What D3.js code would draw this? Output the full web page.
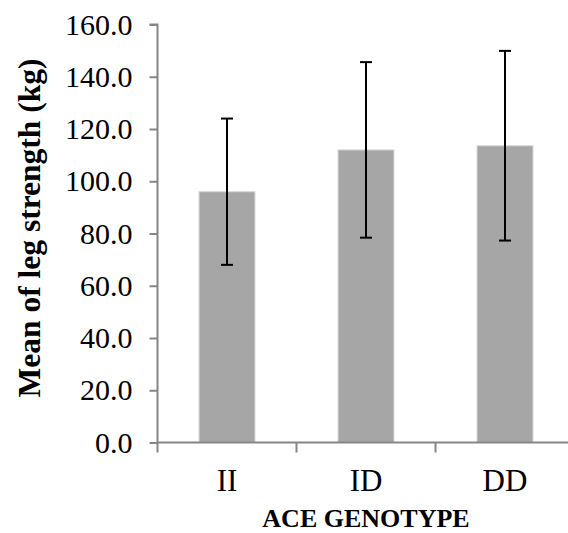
<!DOCTYPE html>
<html><head><meta charset="utf-8">
<script src="https://cdn.jsdelivr.net/npm/d3@7"></script>
<style>html,body{margin:0;padding:0;background:#fff;}svg{display:block;}</style>
</head><body>
<script>
const categories = ["II", "ID", "DD"];
const means = [96.0, 112.0, 113.6];
const errors = [28.0, 33.6, 36.3];
const yTicks = [0, 20, 40, 60, 80, 100, 120, 140, 160];
const yTitle = "Mean of leg strength (kg)";
const xTitle = "ACE GENOTYPE";

const W = 568, H = 533;
const svg = d3.select("body").append("svg").attr("width", W).attr("height", H);
const font = "'Liberation Serif','Times New Roman',serif";

const x = d3.scaleBand().domain(categories).range([157.5, 574.5]).paddingInner(0).paddingOuter(0);
const y = d3.scaleLinear().domain([0, 160]).range([442.5, 24.5]);
const axisColor = "#868686";

// bars
const barW = 56;
svg.append("g").selectAll("rect").data(categories).join("rect")
  .attr("x", (d) => x(d) + x.bandwidth() / 2 - barW / 2)
  .attr("width", barW)
  .attr("y", (d, i) => y(means[i]))
  .attr("height", (d, i) => y(0) - y(means[i]))
  .attr("fill", "#a6a6a6")
  .attr("stroke", "#d9d9d9").attr("stroke-width", 1);

// y axis
const yAxis = svg.append("g").attr("transform", "translate(157.5,0)")
  .call(d3.axisLeft(y).tickValues(yTicks).tickSize(8).tickPadding(17).tickFormat(d3.format(".1f")));
yAxis.selectAll("path,line").attr("stroke", axisColor).attr("stroke-width", 2);
yAxis.select("path").attr("d", `M-8,${y(160)}H0V${y(0)}`);
yAxis.selectAll("text").attr("font-family", font).attr("font-size", 30).attr("fill", "#000");

// x axis
const xAxis = svg.append("g").attr("transform", `translate(0,${y(0)})`)
  .call(d3.axisBottom(x).tickSize(0).tickPadding(26));
xAxis.select("path").attr("stroke", axisColor).attr("stroke-width", 2).attr("d", `M157.5,0H574.5`);
xAxis.selectAll("text").attr("font-family", font).attr("font-size", 31).attr("fill", "#000");
// boundary ticks
svg.append("g").selectAll("line").data(categories).join("line")
  .attr("x1", (d) => x(d)).attr("x2", (d) => x(d))
  .attr("y1", y(0)).attr("y2", y(0) + 10)
  .attr("stroke", axisColor).attr("stroke-width", 2);

// error bars
const eg = svg.append("g").attr("stroke", "#000").attr("stroke-width", 2);
categories.forEach((c, i) => {
  const cx = x(c) + x.bandwidth() / 2;
  const hi = y(means[i] + errors[i]), lo = y(means[i] - errors[i]);
  eg.append("line").attr("x1", cx).attr("x2", cx).attr("y1", hi).attr("y2", lo);
  eg.append("line").attr("x1", cx - 6).attr("x2", cx + 6).attr("y1", hi).attr("y2", hi);
  eg.append("line").attr("x1", cx - 6).attr("x2", cx + 6).attr("y1", lo).attr("y2", lo);
});

// titles
svg.append("text").attr("transform", "translate(40,228) rotate(-90)")
  .attr("text-anchor", "middle").attr("font-family", font).attr("font-weight", "bold")
  .attr("font-size", 31.5).text(yTitle);
svg.append("text").attr("x", 366).attr("y", 527)
  .attr("text-anchor", "middle").attr("font-family", font).attr("font-weight", "bold")
  .attr("font-size", 26).text(xTitle);
</script>
</body></html>
